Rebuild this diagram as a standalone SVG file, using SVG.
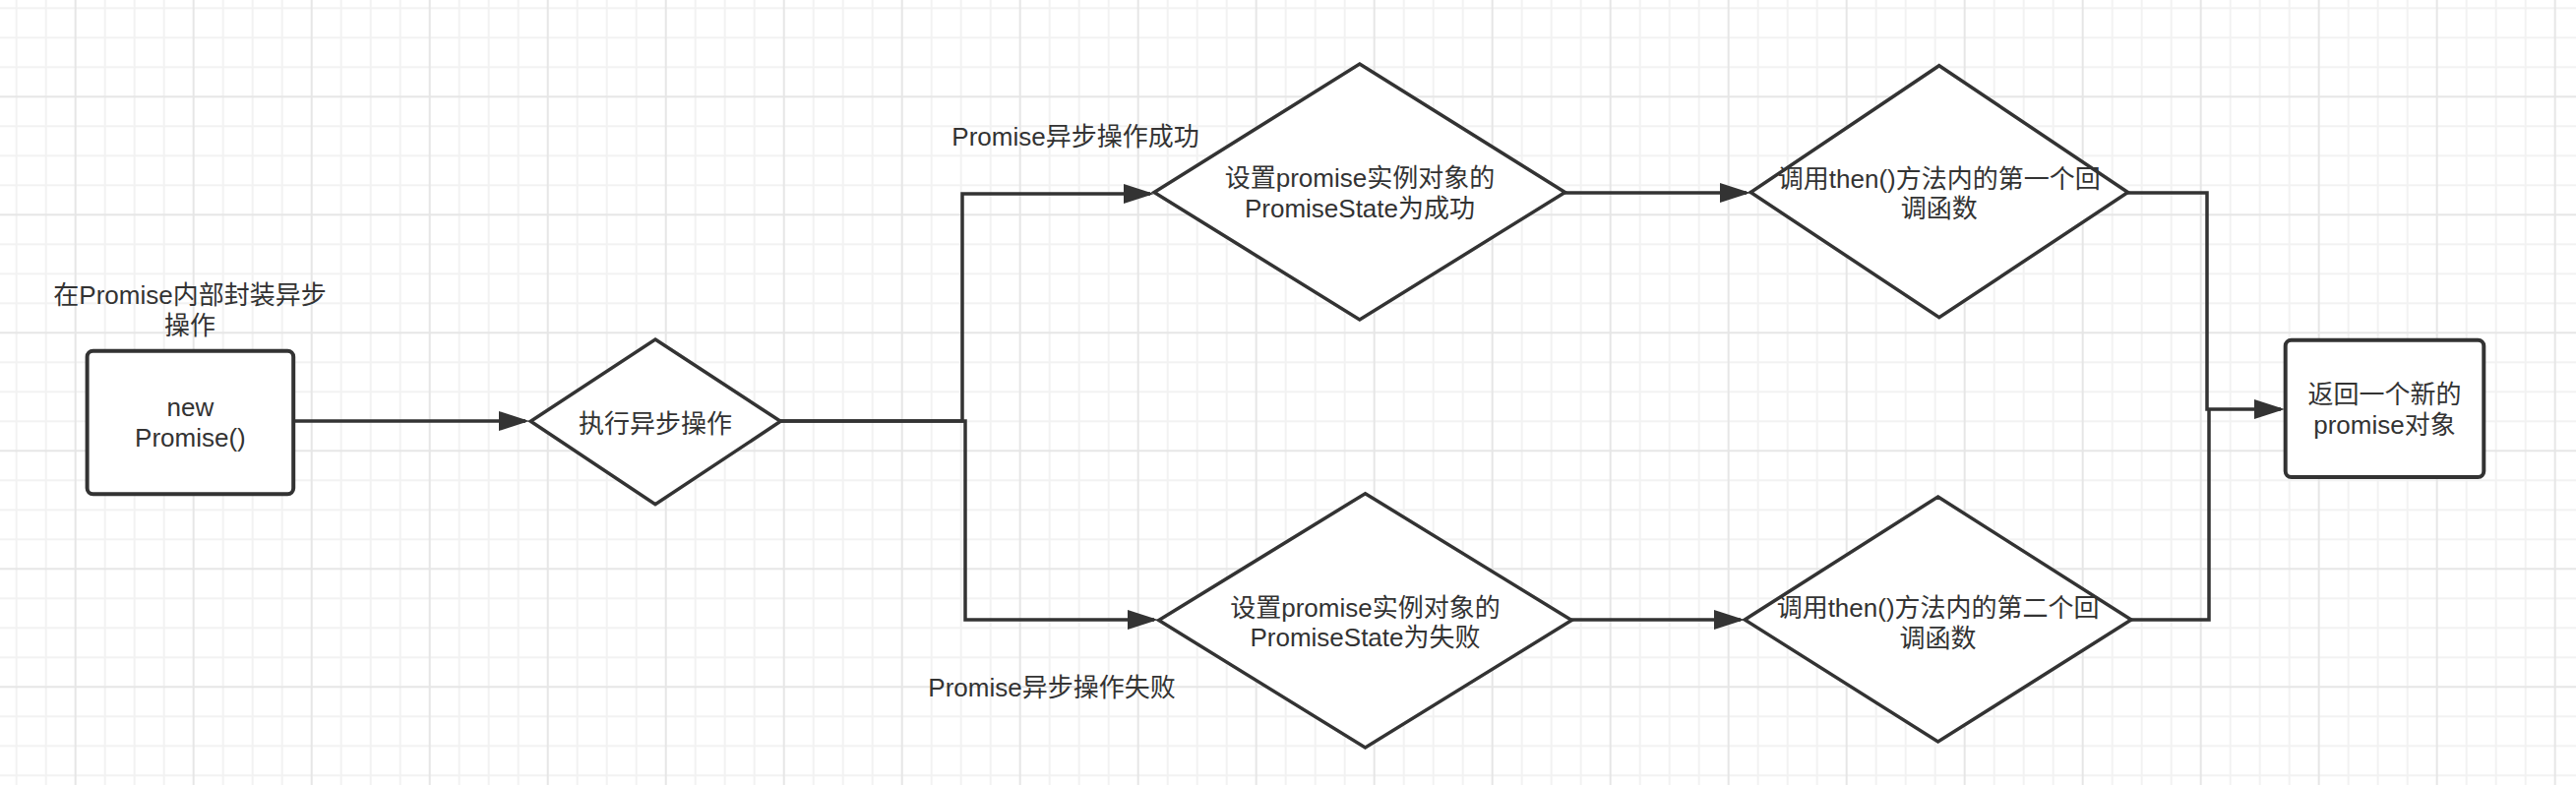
<svg xmlns="http://www.w3.org/2000/svg" width="2618" height="798" viewBox="0 0 2618 798">
<style>
.shape{fill:#ffffff;stroke:#333333;stroke-width:3.5;stroke-linejoin:miter}
.box{fill:#ffffff;stroke:#333333;stroke-width:4}
.edge{fill:none;stroke:#333333;stroke-width:3.5;stroke-linejoin:miter}
text{font-family:"Liberation Sans","Noto Sans CJK SC",sans-serif;font-size:26px;fill:#333333;text-anchor:middle}
</style>
<defs>
<pattern id="grid" patternUnits="userSpaceOnUse" x="1.7" y="-6.7" width="120" height="120">
<path d="M15,0V120M45,0V120M105,0V120M0,15H120M0,45H120M0,75H120" stroke="#f2f2f2" stroke-width="2" fill="none"/>
<path d="M75,0V120M0,105H120" stroke="#e6e6e6" stroke-width="2" fill="none"/>
</pattern>
<marker id="arrow" markerUnits="userSpaceOnUse" markerWidth="32" markerHeight="22" refX="27" refY="10" orient="auto" viewBox="0 0 32 22">
<path d="M0,0L31,10L0,20Z" fill="#333333"/>
</marker>
</defs>
<rect width="2618" height="798" fill="#ffffff"/>
<rect width="2618" height="798" fill="url(#grid)"/>

<g id="connectors">
<path class="edge" d="M298,428H534" marker-end="url(#arrow)"/>
<path class="edge" d="M793,428H978V197H1169" marker-end="url(#arrow)"/>
<path class="edge" d="M793,428H981V630H1173" marker-end="url(#arrow)"/>
<path class="edge" d="M1590,196H1775" marker-end="url(#arrow)"/>
<path class="edge" d="M1597,630H1769" marker-end="url(#arrow)"/>
<path class="edge" d="M2162,196H2243V416H2318" marker-end="url(#arrow)"/>
<path class="edge" d="M2166,630H2245V416"/>
</g>

<g id="label-wrap">
<text x="193" y="309">在Promise内部封装异步</text>
<text x="193" y="340">操作</text>
</g>
<g id="label-success">
<text x="1093" y="148">Promise异步操作成功</text>
</g>
<g id="label-fail">
<text x="1069" y="708">Promise异步操作失败</text>
</g>

<g id="node-new-promise">
<rect class="box" x="88.6" y="356.7" width="209.6" height="145.6" rx="6"/>
<text x="193.4" y="423">new</text>
<text x="193.4" y="454">Promise()</text>
</g>

<g id="node-exec">
<polygon class="shape" points="666,345 793.3,428.3 666,512.7 539.3,428.3"/>
<text x="666" y="440">执行异步操作</text>
</g>

<g id="node-set-success">
<polygon class="shape" points="1381.8,65 1590.6,195.5 1381.8,325 1173,195.5"/>
<text x="1382" y="190">设置promise实例对象的</text>
<text x="1382" y="221">PromiseState为成功</text>
</g>

<g id="node-set-fail">
<polygon class="shape" points="1387.5,501.7 1597.3,630.5 1387.5,760 1177.7,630.5"/>
<text x="1387.5" y="627">设置promise实例对象的</text>
<text x="1387.5" y="657">PromiseState为失败</text>
</g>

<g id="node-then-first">
<polygon class="shape" points="1970.8,66.7 2162.6,195.5 1970.8,322.7 1779.2,195.5"/>
<text x="1970.8" y="191">调用then()方法内的第一个回</text>
<text x="1970.8" y="221">调函数</text>
</g>

<g id="node-then-second">
<polygon class="shape" points="1969.6,505 2166,630 1969.6,754 1773.2,630"/>
<text x="1969.6" y="627">调用then()方法内的第二个回</text>
<text x="1969.6" y="658">调函数</text>
</g>

<g id="node-return">
<rect class="box" x="2322.7" y="345.7" width="201.6" height="139.3" rx="6"/>
<text x="2423.5" y="410">返回一个新的</text>
<text x="2423.5" y="441">promise对象</text>
</g>
</svg>
